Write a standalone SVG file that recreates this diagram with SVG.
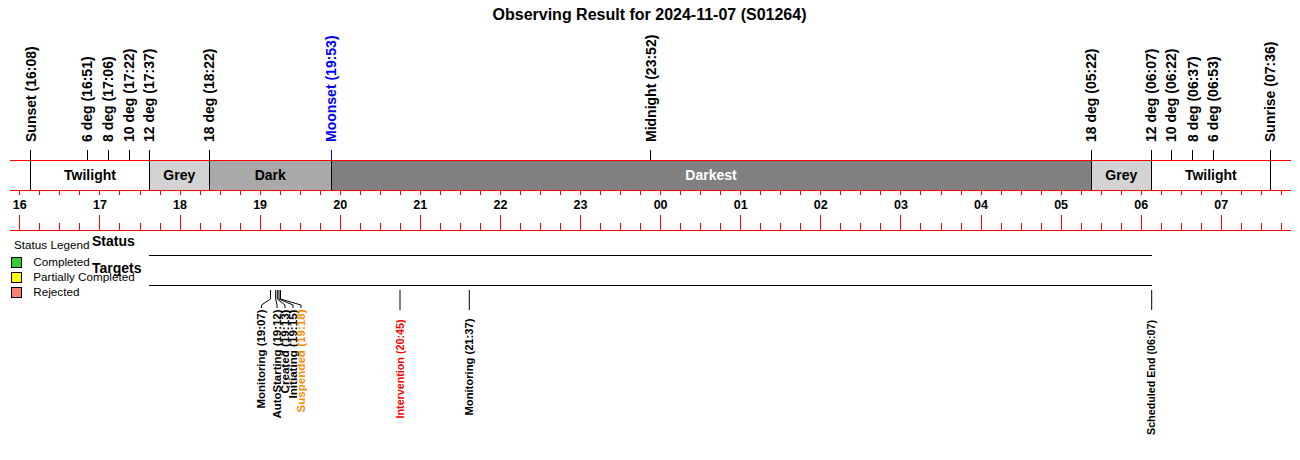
<svg xmlns="http://www.w3.org/2000/svg" width="1300" height="460" viewBox="0 0 1300 460">
<style>
text{font-family:"Liberation Sans",Arial,sans-serif;fill:#000}
.title{font-size:16px;font-weight:bold}
.ev{font-size:14px;font-weight:bold}
.band{font-size:14px;font-weight:bold;text-anchor:middle}
.hr{font-size:12.5px;font-weight:bold;text-anchor:middle}
.row{font-size:14px;font-weight:bold}
.leg{font-size:11.7px}
.bl{font-size:10.2px;font-weight:bold;text-anchor:end}
.red{stroke:#ff0000;stroke-width:1;fill:none}
.blk{stroke:#000;stroke-width:1;fill:none}
.sw{stroke:#000;stroke-width:1}
</style>
<rect width="1300" height="460" fill="#fff"/>
<g id="title"><text class="title" x="649.5" y="20" text-anchor="middle">Observing Result for 2024-11-07 (S01264)</text></g>

<g id="night-band">
<rect x="30.7" y="160" width="118.6" height="30" fill="#ffffff"/>
<rect x="149.3" y="160" width="60" height="30" fill="#d3d3d3"/>
<rect x="209.3" y="160" width="122" height="30" fill="#a9a9a9"/>
<rect x="331.3" y="160" width="760" height="30" fill="#808080"/>
<rect x="1091.3" y="160" width="60" height="30" fill="#d3d3d3"/>
<rect x="1151.3" y="160" width="119" height="30" fill="#ffffff"/>
<text class="band" x="90" y="179.5">Twilight</text>
<text class="band" x="179.3" y="179.5">Grey</text>
<text class="band" x="270.3" y="179.5">Dark</text>
<text class="band" x="711" y="179.5" style="fill:#fff">Darkest</text>
<text class="band" x="1121.3" y="179.5">Grey</text>
<text class="band" x="1210.8" y="179.5">Twilight</text>
</g>

<g id="axis" shape-rendering="crispEdges">
<path class="red" d="M10 160.5H1291M10 190.5H1291M10 230.5H1291"/>
<path class="red" d="M19.8 190V195M39.8 190V195M59.9 190V195M79.9 190V195M99.9 190V195M119.9 190V195M140 190V195M160 190V195M180 190V195M200 190V195M220.1 190V195M240.1 190V195M260.1 190V195M280.1 190V195M300.2 190V195M320.2 190V195M340.2 190V195M360.2 190V195M380.3 190V195M400.3 190V195M420.3 190V195M440.3 190V195M460.4 190V195M480.4 190V195M500.4 190V195M520.4 190V195M540.5 190V195M560.5 190V195M580.5 190V195M600.5 190V195M620.6 190V195M640.6 190V195M660.6 190V195M680.6 190V195M700.7 190V195M720.7 190V195M740.7 190V195M760.7 190V195M780.8 190V195M800.8 190V195M820.8 190V195M840.8 190V195M860.9 190V195M880.9 190V195M900.9 190V195M920.9 190V195M941 190V195M961 190V195M981 190V195M1001 190V195M1021.1 190V195M1041.1 190V195M1061.1 190V195M1081.1 190V195M1101.2 190V195M1121.2 190V195M1141.2 190V195M1161.2 190V195M1181.3 190V195M1201.3 190V195M1221.3 190V195M1241.3 190V195M1261.4 190V195M1281.4 190V195"/>
<path class="red" d="M19.8 215V230M99.9 215V230M180 215V230M260.1 215V230M340.2 215V230M420.3 215V230M500.4 215V230M580.5 215V230M660.6 215V230M740.7 215V230M820.8 215V230M900.9 215V230M981 215V230M1061.1 215V230M1141.2 215V230M1221.3 215V230"/>
<path class="red" d="M39.8 223V230M59.9 223V230M79.9 223V230M119.9 223V230M140 223V230M160 223V230M200 223V230M220.1 223V230M240.1 223V230M280.1 223V230M300.2 223V230M320.2 223V230M360.2 223V230M380.3 223V230M400.3 223V230M440.3 223V230M460.4 223V230M480.4 223V230M520.4 223V230M540.5 223V230M560.5 223V230M600.5 223V230M620.6 223V230M640.6 223V230M680.6 223V230M700.7 223V230M720.7 223V230M760.7 223V230M780.8 223V230M800.8 223V230M840.8 223V230M860.9 223V230M880.9 223V230M920.9 223V230M941 223V230M961 223V230M1001 223V230M1021.1 223V230M1041.1 223V230M1081.1 223V230M1101.2 223V230M1121.2 223V230M1161.2 223V230M1181.3 223V230M1201.3 223V230M1241.3 223V230M1261.4 223V230M1281.4 223V230"/>
</g>
<g id="hour-labels">
<text class="hr" x="19.8" y="208.5">16</text>
<text class="hr" x="99.9" y="208.5">17</text>
<text class="hr" x="180" y="208.5">18</text>
<text class="hr" x="260.1" y="208.5">19</text>
<text class="hr" x="340.2" y="208.5">20</text>
<text class="hr" x="420.3" y="208.5">21</text>
<text class="hr" x="500.4" y="208.5">22</text>
<text class="hr" x="580.5" y="208.5">23</text>
<text class="hr" x="660.6" y="208.5">00</text>
<text class="hr" x="740.7" y="208.5">01</text>
<text class="hr" x="820.8" y="208.5">02</text>
<text class="hr" x="900.9" y="208.5">03</text>
<text class="hr" x="981" y="208.5">04</text>
<text class="hr" x="1061.1" y="208.5">05</text>
<text class="hr" x="1141.2" y="208.5">06</text>
<text class="hr" x="1221.3" y="208.5">07</text>
</g>

<g id="sky-events">
<path class="blk" shape-rendering="crispEdges" d="M30.7 150V190M87.3 150V160M108.3 150V160M129.3 150V160M149.3 150V190M209.3 150V190M331.3 160V190M650.7 150V160M1091.3 150V190M1151.3 150V190M1171.3 150V160M1192.7 150V160M1213.3 150V160M1270.3 150V190"/>
<path d="M331.3 150V160" stroke="#0000ff" stroke-width="1" shape-rendering="crispEdges"/>
<text class="ev" transform="translate(35.7,142) rotate(-90)">Sunset (16:08)</text>
<text class="ev" transform="translate(92.3,142) rotate(-90)">6 deg (16:51)</text>
<text class="ev" transform="translate(113.3,142) rotate(-90)">8 deg (17:06)</text>
<text class="ev" transform="translate(134.3,142) rotate(-90)">10 deg (17:22)</text>
<text class="ev" transform="translate(154.3,142) rotate(-90)">12 deg (17:37)</text>
<text class="ev" transform="translate(214.3,142) rotate(-90)">18 deg (18:22)</text>
<text class="ev" transform="translate(336.3,142) rotate(-90)" style="fill:#0000ff">Moonset (19:53)</text>
<text class="ev" transform="translate(655.7,142) rotate(-90)">Midnight (23:52)</text>
<text class="ev" transform="translate(1096.3,142) rotate(-90)">18 deg (05:22)</text>
<text class="ev" transform="translate(1156.3,142) rotate(-90)">12 deg (06:07)</text>
<text class="ev" transform="translate(1176.3,142) rotate(-90)">10 deg (06:22)</text>
<text class="ev" transform="translate(1197.7,142) rotate(-90)">8 deg (06:37)</text>
<text class="ev" transform="translate(1218.3,142) rotate(-90)">6 deg (06:53)</text>
<text class="ev" transform="translate(1275.3,142) rotate(-90)">Sunrise (07:36)</text>
</g>

<g id="legend">
<text class="leg" x="14" y="249.3">Status Legend</text>
<rect class="sw" x="11.5" y="257.5" width="10" height="10" fill="#32cd32"/>
<rect class="sw" x="11.5" y="272.5" width="10" height="10" fill="#ffff00"/>
<rect class="sw" x="11.5" y="287.5" width="10" height="10" fill="#fa8072"/>
<text class="leg" x="33.3" y="266">Completed</text>
<text class="leg" x="33.3" y="280.8">Partially Completed</text>
<text class="leg" x="33.3" y="295.6">Rejected</text>
</g>

<g id="status-row">
<text class="row" x="92" y="246">Status</text>
<path class="blk" shape-rendering="crispEdges" d="M149 255.5H1152"/>
</g>
<g id="targets-row">
<text class="row" x="92" y="273">Targets</text>
<path class="blk" shape-rendering="crispEdges" d="M149 285.5H1152"/>
</g>

<g id="connectors">
<path class="blk" d="M270.5 290V299L261.5 305V308"/>
<path class="blk" d="M275.7 290V299L277 305V308"/>
<path class="blk" d="M277.3 290V299L285 305V308"/>
<path class="blk" d="M279 290V299L293 305V308"/>
<path class="blk" d="M280.5 290V299L301 305V308"/>
<path class="blk" d="M400 290V310"/>
<path class="blk" d="M469.3 290V310"/>
<path class="blk" d="M1151.7 290V310"/>
</g>

<g id="obs-events">
<text class="bl" transform="translate(265.2,309.5) rotate(-90)" textLength="99" lengthAdjust="spacingAndGlyphs">Monitoring (19:07)</text>
<text class="bl" transform="translate(280.7,309.5) rotate(-90)" textLength="109" lengthAdjust="spacingAndGlyphs">AutoStarting (19:12)</text>
<text class="bl" transform="translate(288.7,309.5) rotate(-90)" textLength="84" lengthAdjust="spacingAndGlyphs">Created (19:13)</text>
<text class="bl" transform="translate(296.7,309.5) rotate(-90)" textLength="89" lengthAdjust="spacingAndGlyphs">Initiating (19:15)</text>
<text class="bl" transform="translate(304.7,309.5) rotate(-90)" textLength="103" lengthAdjust="spacingAndGlyphs" style="fill:#ff8c00">Suspended (19:18)</text>
<text class="bl" transform="translate(403.7,319.5) rotate(-90)" textLength="99" lengthAdjust="spacingAndGlyphs" style="fill:#ff0000">Intervention (20:45)</text>
<text class="bl" transform="translate(473,318.5) rotate(-90)" textLength="97" lengthAdjust="spacingAndGlyphs">Monitoring (21:37)</text>
<text class="bl" transform="translate(1155.4,320) rotate(-90)" textLength="115" lengthAdjust="spacingAndGlyphs">Scheduled End (06:07)</text>
</g>
</svg>
